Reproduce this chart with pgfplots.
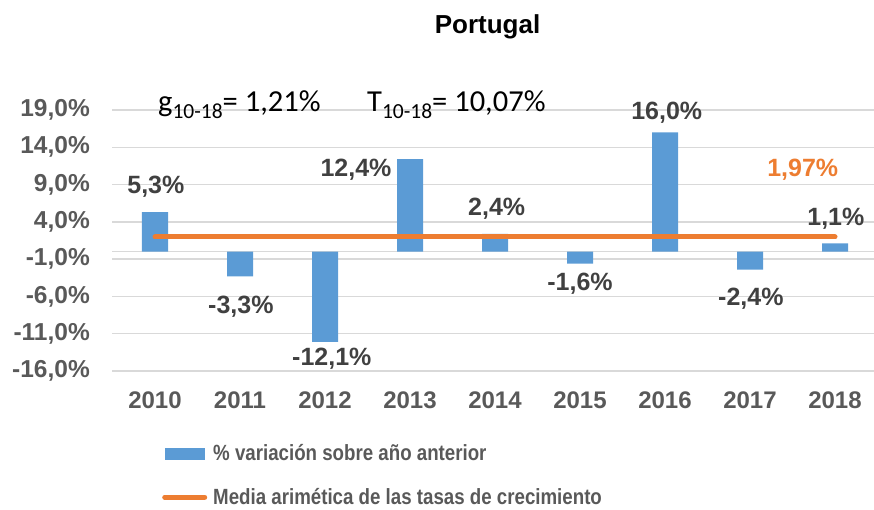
\documentclass[border=0pt]{standalone}
\usepackage{fontspec}
\setmainfont{Liberation Sans}
\newfontfamily\calibri{Carlito}
\newfontfamily\narrow[FakeStretch=0.85]{Liberation Sans}
\usepackage{pgfplots}
\pgfplotsset{compat=1.18}
\definecolor{barblue}{HTML}{5B9BD5}
\definecolor{lineorange}{HTML}{ED7D31}
\definecolor{ticktext}{HTML}{595959}
\definecolor{labeltext}{HTML}{404040}
\definecolor{gridgray}{HTML}{D9D9D9}

\begin{document}
\begin{tikzpicture}
\useasboundingbox (0,0) rectangle (874pt,509pt);
\begin{axis}[
  at={(112.5pt,138pt)}, anchor=south west,
  scale only axis, width=765pt, height=261pt,
  xmin=-0.5, xmax=8.5, ymin=-16, ymax=19,
  clip=false,
  axis line style={draw=none},
  major tick length=0pt,
  ytick={-16,-11,-6,-1,4,9,14,19},
  xtick={0,...,8},
  xticklabels={2010,2011,2012,2013,2014,2015,2016,2017,2018},
  ymajorgrids, grid style={gridgray, line width=1.5pt},
  extra y ticks={0}, extra y tick labels={},
  extra y tick style={grid=major},
  /pgf/number format/assume math mode=true,
  yticklabel={\pgfmathprintnumber[fixed,fixed zerofill,precision=1,use comma]{\tick}\%},
  y tick label style={font=\bfseries\fontsize{24.5}{28}\selectfont, text=ticktext, anchor=east, inner sep=0pt, xshift=-22.5pt},
  x tick label style={font=\bfseries\fontsize{24}{28}\selectfont, text=ticktext, anchor=north, inner sep=0pt, yshift=-20.5pt},
  legend style={at={(0.0608,-0.274)}, anchor=north west, draw=none, fill=none,
    font=\narrow\bfseries\fontsize{22}{26}\selectfont, text=ticktext,
    nodes={inner sep=0pt, anchor=west}, column sep=6pt, row sep=26pt},
  legend cell align=left,
]
\addplot[ybar, bar width=26pt, bar shift=0pt, fill=barblue, draw=none,
  legend image code/.code={\fill[barblue] (0pt,-6pt) rectangle (40pt,6pt);}]
  coordinates {(0,5.3) (1,-3.3) (2,-12.1) (3,12.4) (4,2.4) (5,-1.6) (6,16.0) (7,-2.4) (8,1.1)};
\addlegendentry{\% variación sobre año anterior}
\addplot[lineorange, line width=5pt, line cap=round, mark=none,
  legend image code/.code={\draw[lineorange, line width=5pt, line cap=round] (0pt,0pt) -- (40pt,0pt);}]
  coordinates {(0,1.97) (8,1.97)};
\addlegendentry{Media arimética de las tasas de crecimiento}

\begin{scope}[every node/.style={anchor=base, inner sep=0pt, font=\bfseries\fontsize{25}{30}\selectfont, text=labeltext}]
\node at (axis cs:0.01,7.75) {5,3\%};
\node at (axis cs:1.01,-8.34) {-3,3\%};
\node at (axis cs:2.08,-15.27) {-12,1\%};
\node at (axis cs:2.365,10.03) {12,4\%};
\node at (axis cs:4.02,4.84) {2,4\%};
\node at (axis cs:5.0,-5.25) {-1,6\%};
\node at (axis cs:6.02,17.7) {16,0\%};
\node at (axis cs:7.01,-7.26) {-2,4\%};
\node at (axis cs:8.01,3.46) {1,1\%};
\node[text=lineorange] at (axis cs:7.62,10.03) {1,97\%};
\end{scope}
\end{axis}
\node[anchor=base, font=\bfseries\fontsize{26}{30}\selectfont] at (487.5pt,475.8pt) {Portugal};
\node[anchor=base west, inner sep=0pt, font=\calibri\fontsize{30.5}{34}\selectfont] at (158pt,397.3pt)
  {g\raisebox{-6.5pt}{\fontsize{21.5}{24}\selectfont 10-18}= 1,21\%};
\node[anchor=base west, inner sep=0pt, font=\calibri\fontsize{30.5}{34}\selectfont] at (367pt,397.3pt)
  {T\raisebox{-6.5pt}{\fontsize{21.5}{24}\selectfont 10-18}= 10,07\%};
\end{tikzpicture}
\end{document}
